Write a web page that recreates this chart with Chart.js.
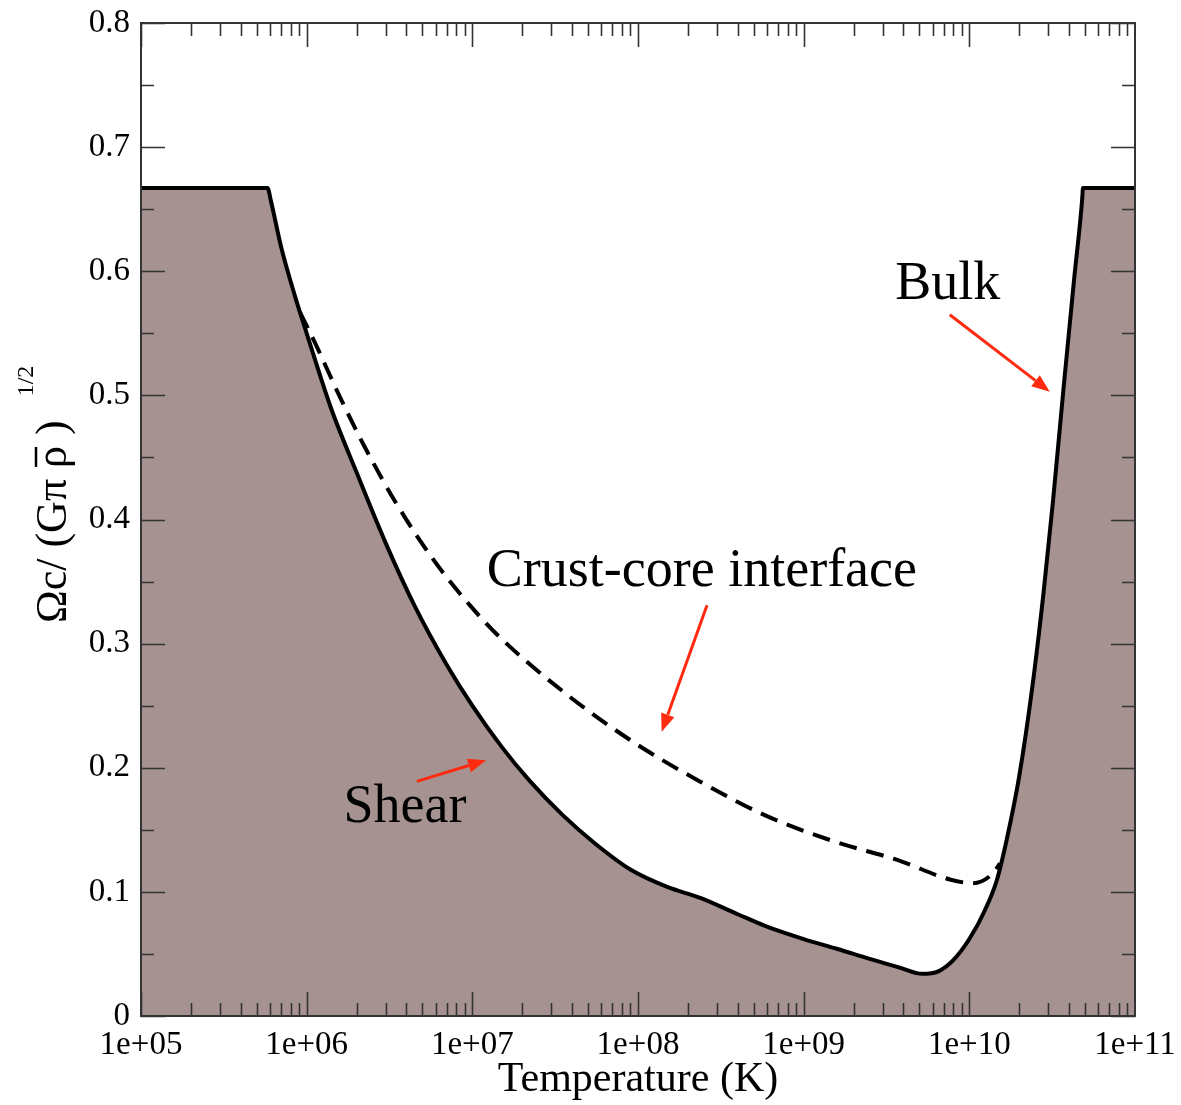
<!DOCTYPE html>
<html>
<head>
<meta charset="utf-8">
<script src="https://cdn.jsdelivr.net/npm/chart.js@4.4.1/dist/chart.umd.min.js"></script>
<style>
  html, body { margin: 0; padding: 0; background: #fff; }
</style>
</head>
<body>
<canvas id="chart" width="1181" height="1105"></canvas>
<script>
// critical curve (shear on the left, bulk on the right), filled below
const critTemp = [1e5, 5.8e5, 6.1e5, 7.0e5, 8.5e5, 1.0e6, 1.4e6, 2.0e6, 3.0e6, 4.5e6, 7.0e6, 1.0e7, 1.5e7, 2.2e7, 3.5e7, 5.5e7, 9.0e7, 1.5e8, 2.4e8, 4.0e8, 6.0e8, 1.0e9, 1.6e9, 2.5e9, 3.8e9, 5.2e9, 6.5e9, 8.0e9, 1.0e10, 1.24e10, 1.47e10, 1.7e10, 2.0e10, 2.4e10, 2.8e10, 3.2e10, 3.7e10, 4.3e10, 4.65e10, 4.82e10, 4.84e10, 1e11];
const critOmega = [0.667, 0.667, 0.656, 0.620, 0.580, 0.550, 0.490, 0.438, 0.381, 0.330, 0.283, 0.250, 0.217, 0.190, 0.162, 0.139, 0.118, 0.104, 0.095, 0.082, 0.072, 0.062, 0.054, 0.046, 0.039, 0.034, 0.036, 0.045, 0.062, 0.085, 0.110, 0.145, 0.193, 0.265, 0.340, 0.415, 0.505, 0.595, 0.638, 0.662, 0.667, 0.667];

// crust-core interface (dashed)
const crustTemp = [9.1e5, 1.09e6, 1.61e6, 2.25e6, 3.51e6, 5.94e6, 9.8e6, 1.47e7, 3.72e7, 9.3e7, 2.36e8, 6.0e8, 1.5e9, 3.81e9, 7.62e9, 1.05e10, 1.39e10, 1.53e10];
const crustOmega = [0.567, 0.546, 0.497, 0.458, 0.412, 0.366, 0.330, 0.305, 0.259, 0.221, 0.189, 0.161, 0.141, 0.125, 0.110, 0.107, 0.115, 0.123];

const xTicks = [1e5, 1e6, 1e7, 1e8, 1e9, 1e10, 1e11];
const xTickLabels = ["1e+05", "1e+06", "1e+07", "1e+08", "1e+09", "1e+10", "1e+11"];
const yTickLabels = ["0", "0.1", "0.2", "0.3", "0.4", "0.5", "0.6", "0.7", "0.8"];

// annotations in data units: text, text position, arrow tail, arrow head
const notes = [
  { text: "Bulk", at: [7.41e9, 0.589], from: [7.62e9, 0.565], to: [3.06e10, 0.503] },
  { text: "Crust-core interface", at: [2.43e8, 0.358], from: [2.61e8, 0.331], to: [1.39e8, 0.229] },
  { text: "Shear", at: [3.92e6, 0.168], from: [4.63e6, 0.189], to: [1.21e7, 0.206] }
];

const SERIF = "'Liberation Serif', 'Times New Roman', serif";

function toPoints(xs, ys) {
  return xs.map((x, i) => ({ x: x, y: ys[i] }));
}

function arrow(ctx, x1, y1, x2, y2) {
  const ang = Math.atan2(y2 - y1, x2 - x1);
  const hl = 18, hw = 7;
  const bx = x2 - hl * Math.cos(ang), by = y2 - hl * Math.sin(ang);
  ctx.beginPath();
  ctx.moveTo(x1, y1);
  ctx.lineTo(bx, by);
  ctx.stroke();
  ctx.beginPath();
  ctx.moveTo(x2, y2);
  ctx.lineTo(bx + hw * Math.sin(ang), by - hw * Math.cos(ang));
  ctx.lineTo(bx - hw * Math.sin(ang), by + hw * Math.cos(ang));
  ctx.closePath();
  ctx.fill();
}

const frameTicks = {
  id: "frameTicks",
  afterDatasetsDraw(chart) {
    const { ctx, chartArea: a, scales: { x, y } } = chart;
    ctx.save();

    // inward ticks on all four sides
    ctx.strokeStyle = "#333";
    ctx.lineWidth = 1.6;
    ctx.beginPath();
    for (let e = 5; e < 11; e++) {
      for (let m = 1; m < 10; m++) {
        const px = Math.round(x.getPixelForValue(m * Math.pow(10, e))) + 0.5;
        const len = m === 1 ? 24 : 13;
        ctx.moveTo(px, a.bottom); ctx.lineTo(px, a.bottom - len);
        ctx.moveTo(px, a.top); ctx.lineTo(px, a.top + len);
      }
    }
    for (let k = 0; k <= 16; k++) {
      const py = Math.round(y.getPixelForValue(k * 0.05)) + 0.5;
      const len = k % 2 === 0 ? 24 : 13;
      ctx.moveTo(a.left, py); ctx.lineTo(a.left + len, py);
      ctx.moveTo(a.right, py); ctx.lineTo(a.right - len, py);
    }
    ctx.stroke();

    ctx.lineWidth = 2;
    ctx.strokeRect(a.left, a.top, a.right - a.left, a.bottom - a.top);

    // annotations
    ctx.fillStyle = "#000";
    ctx.font = "54px " + SERIF;
    ctx.textAlign = "center";
    ctx.textBaseline = "middle";
    notes.forEach(n => {
      ctx.fillText(n.text, x.getPixelForValue(n.at[0]), y.getPixelForValue(n.at[1]));
    });
    ctx.strokeStyle = "#ff2a10";
    ctx.fillStyle = "#ff2a10";
    ctx.lineWidth = 3;
    notes.forEach(n => {
      arrow(ctx,
        x.getPixelForValue(n.from[0]), y.getPixelForValue(n.from[1]),
        x.getPixelForValue(n.to[0]), y.getPixelForValue(n.to[1]));
    });

    // y axis title: Omega_c / (G pi rho-bar)^(1/2)
    ctx.fillStyle = "#000";
    ctx.strokeStyle = "#000";
    ctx.translate(66, 623);
    ctx.rotate(-Math.PI / 2);
    ctx.textAlign = "left";
    ctx.textBaseline = "alphabetic";
    ctx.font = "44px " + SERIF;
    const p1 = "\u03A9c/ (G\u03C0 ";
    const p2 = "\u03C1";
    const p3 = " )";
    const w1 = ctx.measureText(p1).width;
    const w2 = ctx.measureText(p2).width;
    const w3 = ctx.measureText(p3).width;
    ctx.fillText(p1, 0, 0);
    ctx.fillText(p2, w1, 0);
    ctx.fillText(p3, w1 + w2, 0);
    ctx.lineWidth = 2.5;
    ctx.beginPath();
    ctx.moveTo(w1 + 1, -30);
    ctx.lineTo(w1 + w2 - 1, -30);
    ctx.stroke();
    ctx.font = "24px " + SERIF;
    ctx.fillText("1/2", w1 + w2 + w3 + 24, -33);

    ctx.restore();
  }
};

const ctx = document.getElementById("chart").getContext("2d");

new Chart(ctx, {
  type: "scatter",
  data: {
    datasets: [
      {
        label: "Critical",
        data: toPoints(critTemp, critOmega),
        showLine: true,
        borderColor: "#000",
        borderWidth: 4,
        backgroundColor: "#a69391",
        fill: "origin",
        pointRadius: 0,
        cubicInterpolationMode: "monotone"
      },
      {
        label: "Crust-core interface",
        data: toPoints(crustTemp, crustOmega),
        showLine: true,
        borderColor: "#000",
        borderWidth: 4,
        borderDash: [18, 10],
        fill: false,
        pointRadius: 0,
        cubicInterpolationMode: "monotone"
      }
    ]
  },
  options: {
    responsive: false,
    animation: false,
    devicePixelRatio: 1,
    layout: { padding: { top: 23, right: 46, left: 0, bottom: 0 } },
    plugins: {
      legend: { display: false },
      tooltip: { enabled: false }
    },
    scales: {
      x: {
        type: "logarithmic",
        min: 1e5,
        max: 1e11,
        afterBuildTicks: scale => {
          scale.ticks = xTicks.map(v => ({ value: v }));
        },
        afterFit: scale => {
          scale.height = 89;
          scale.paddingLeft = 0;
          scale.paddingRight = 0;
        },
        grid: { display: false, drawTicks: false },
        border: { display: false },
        ticks: {
          color: "#000",
          padding: 10,
          maxRotation: 0,
          autoSkip: false,
          font: { family: SERIF, size: 33 },
          callback: (v, i) => xTickLabels[i]
        },
        title: {
          display: true,
          text: "Temperature (K)",
          color: "#000",
          padding: { top: 0, bottom: 0 },
          font: { family: SERIF, size: 42 }
        }
      },
      y: {
        min: 0,
        max: 0.8,
        afterBuildTicks: scale => {
          scale.ticks = yTickLabels.map((t, i) => ({ value: i * 0.1 }));
        },
        afterFit: scale => {
          scale.width = 141;
          scale.paddingTop = 0;
          scale.paddingBottom = 0;
        },
        grid: { display: false, drawTicks: false },
        border: { display: false },
        ticks: {
          color: "#000",
          padding: 11,
          autoSkip: false,
          font: { family: SERIF, size: 33 },
          callback: (v, i) => yTickLabels[i]
        }
      }
    }
  },
  plugins: [frameTicks]
});
</script>
</body>
</html>
